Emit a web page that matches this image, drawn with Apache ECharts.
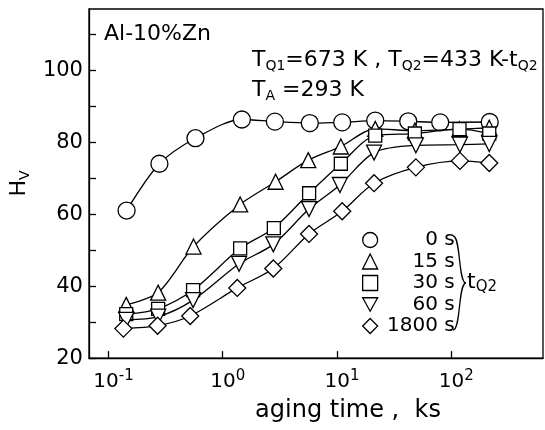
<!DOCTYPE html>
<html><head><meta charset="utf-8">
<script src="https://cdn.jsdelivr.net/npm/echarts@6/dist/echarts.min.js"></script>
<style>html,body{margin:0;padding:0;background:#fff}#c{width:545px;height:430px}</style>
</head><body><div id="c"></div>
<script>
// ---- data (aging time in ks, Vickers hardness) ----
const seriesNames = ['0 s', '15 s', '30 s', '60 s', '1800 s'];
const t0    = [0.144, 0.279, 0.577, 1.47, 2.86, 5.78, 11.1, 21.6, 42, 80, 217];
const hv0   = [61, 74, 81.1, 86.3, 85.7, 85.3, 85.5, 86, 85.8, 85.5, 85.6];
const t15   = [0.143, 0.272, 0.555, 1.42, 2.9, 5.6, 10.8, 21.6, 48, 118, 215];
const hv15  = [34.8, 38.2, 51, 62.7, 69, 75, 78.8, 83.7, 83.2, 83.6, 84];
const t30   = [0.143, 0.272, 0.55, 1.42, 2.8, 5.7, 10.8, 21.6, 48, 118, 215];
const hv30  = [32.2, 33.7, 38.9, 50.5, 56.1, 65.8, 74, 81.8, 82.4, 83.6, 82.4];
const t60   = [0.143, 0.272, 0.55, 1.39, 2.77, 5.69, 10.6, 21.1, 49, 119, 215];
const hv60  = [30.6, 31.5, 36.1, 46.2, 51.6, 61.4, 68.1, 77.1, 79.1, 79.3, 79.5];
const t1800 = [0.135, 0.269, 0.519, 1.34, 2.77, 5.69, 11.1, 21.1, 49, 119, 215];
const hv1800= [28.2, 29, 31.7, 39.5, 44.9, 54.5, 60.8, 68.6, 73, 74.8, 74.2];
const xTickValues = [0.1, 1, 10, 100];
const yTickValues = [20, 30, 40, 50, 60, 70, 80, 90, 100, 110];
const yLabelValues = [20, 40, 60, 80, 100];

const FONT = 'DejaVu Sans';
const allT = [t0, t15, t30, t60, t1800];
const allHv = [hv0, hv15, hv30, hv60, hv1800];
const symbols = ['circle', 'triangle', 'rect', 'path://M0,0L10,0L5,9Z', 'diamond'];
const sizes = [17, 15, 13, 15, 17];

function pairs(t, v) { return t.map((x, i) => [x, v[i]]); }

const series = seriesNames.map((name, i) => ({
  type: 'line', name: name, data: pairs(allT[i], allHv[i]),
  smooth: 0.3, symbol: symbols[i], symbolSize: sizes[i], showSymbol: true,
  lineStyle: { color: '#000', width: 1.3 },
  itemStyle: { color: '#fff', borderColor: '#000', borderWidth: 1.3 },
  emphasis: { disabled: true }, silent: true, z: 2 + i
}));

const chart = echarts.init(document.getElementById('c'), null, { renderer: 'canvas' });
chart.setOption({
  animation: false,
  backgroundColor: '#fff',
  grid: { left: 78, right: 2, top: 9, bottom: 60, show: true, borderColor: '#000', borderWidth: 1.3, backgroundColor: 'transparent' },
  xAxis: {
    type: 'log', logBase: 10, min: 0.0675, max: 635,
    axisLine: { lineStyle: { color: '#000', width: 1.3 } },
    axisTick: { inside: true, length: 7, customValues: xTickValues, lineStyle: { color: '#000', width: 1.3 } },
    minorTick: { show: false }, splitLine: { show: false },
    axisLabel: {
      customValues: xTickValues, margin: 11, color: '#000',
      formatter: function (v) {
        const e = Math.round(Math.log10(v));
        return '{b|10}{s|' + (e < 0 ? '-' + (-e) : '' + e) + '}';
      },
      rich: {
        b: { fontSize: 20, fontFamily: FONT, color: '#000', lineHeight: 26, padding: [0, 0, 0, 10] },
        s: { fontSize: 15, fontFamily: FONT, color: '#000', lineHeight: 16, verticalAlign: 'top' }
      }
    },
    name: 'aging time ,  ks', nameLocation: 'middle', nameGap: 24,
    nameTextStyle: { fontSize: 24, fontFamily: FONT, color: '#000', lineHeight: 28, padding: [0, 0, 0, 64] }
  },
  yAxis: {
    type: 'value', min: 20, max: 117,
    axisLine: { lineStyle: { color: '#000', width: 1.3 } },
    axisTick: { inside: true, length: 7, customValues: yTickValues, lineStyle: { color: '#000', width: 1.3 } },
    splitLine: { show: false },
    axisLabel: { customValues: yLabelValues, margin: 6, color: '#000', fontSize: 21, fontFamily: FONT },
    name: '{h|H}{v|V}', nameLocation: 'middle', nameRotate: 90, nameGap: 52,
    nameTextStyle: {
      rich: {
        h: { fontSize: 22, fontFamily: FONT, color: '#000', lineHeight: 26 },
        v: { fontSize: 14, fontFamily: FONT, color: '#000', lineHeight: 12, verticalAlign: 'bottom' }
      }
    }
  },
  legend: {
    orient: 'vertical', left: 362, top: 229.5, padding: 0,
    itemWidth: 15, itemHeight: 15, itemGap: 0.5, selectedMode: false,
    data: seriesNames.map((n, i) => ({ name: n, icon: symbols[i] })),
    itemStyle: { color: '#fff', borderColor: '#000', borderWidth: 1.3 },
    formatter: function (n) { return '{r|' + n + '}'; },
    textStyle: {
      color: '#000', fontSize: 20, fontFamily: FONT, lineHeight: 21,
      rich: { r: { width: 72, align: 'right', fontSize: 20, fontFamily: FONT, color: '#000', lineHeight: 21 } }
    }
  },
  graphic: [
    { type: 'text', x: 104, y: 23, style: { text: 'Al-10%Zn', fontSize: 22, fontFamily: FONT, fill: '#000' } },
    { type: 'text', x: 252, y: 47, style: {
        text: '{m|T}{s|Q1}{m|=673 K , T}{s|Q2}{m|=433 K-t}{s|Q2}',
        rich: {
          m: { fontSize: 22, fontFamily: FONT, fill: '#000', lineHeight: 26 },
          s: { fontSize: 14, fontFamily: FONT, fill: '#000', lineHeight: 12, verticalAlign: 'bottom' }
        } } },
    { type: 'text', x: 252, y: 77, style: {
        text: '{m|T}{s|A}{m| =293 K}',
        rich: {
          m: { fontSize: 22, fontFamily: FONT, fill: '#000', lineHeight: 26 },
          s: { fontSize: 14, fontFamily: FONT, fill: '#000', lineHeight: 12, verticalAlign: 'bottom' }
        } } },
    { type: 'bezierCurve', shape: { x1: 453, y1: 236, cpx1: 461, cpy1: 236, cpx2: 458, cpy2: 283, x2: 466, y2: 283 },
      style: { fill: null, stroke: '#000', lineWidth: 1.3 } },
    { type: 'bezierCurve', shape: { x1: 466, y1: 283, cpx1: 458, cpy1: 283, cpx2: 461, cpy2: 330, x2: 453, y2: 330 },
      style: { fill: null, stroke: '#000', lineWidth: 1.3 } },
    { type: 'text', x: 467, y: 269, style: {
        text: '{t|t}{q|Q2}',
        rich: {
          t: { fontSize: 22, fontFamily: FONT, fill: '#000', lineHeight: 26 },
          q: { fontSize: 15, fontFamily: FONT, fill: '#000', lineHeight: 12, verticalAlign: 'bottom' }
        } } }
  ],
  series: series
});
</script>
</body></html>
